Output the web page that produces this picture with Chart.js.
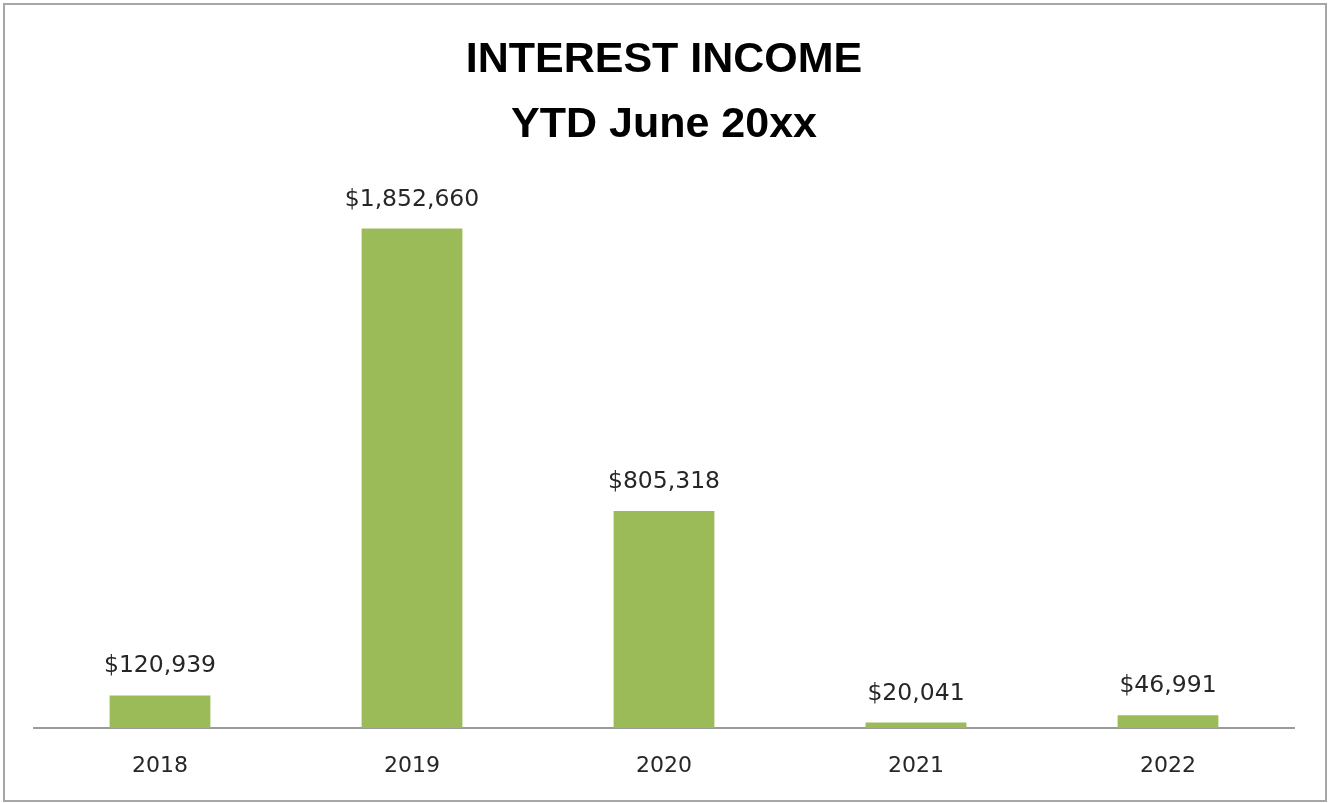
<!DOCTYPE html>
<html>
<head>
<meta charset="utf-8">
<title>Interest Income</title>
<script src="https://cdn.jsdelivr.net/npm/chart.js@4.4.0/dist/chart.umd.min.js"></script>
<style>
  html, body { margin: 0; padding: 0; background: #fff; }
  .frame {
    position: absolute;
    left: 3px;
    top: 3px;
    width: 1320px;
    height: 795px;
    border: 2px solid #a6a6a6;
    background: #fff;
  }
  canvas { display: block; }
</style>
</head>
<body>
<div class="frame">
  <canvas id="incomeChart" width="1320" height="795"></canvas>
</div>
<script>
const years = ["2018", "2019", "2020", "2021", "2022"];
const interestIncome = [120939, 1852660, 805318, 20041, 46991];
const titleLines = ["INTEREST INCOME", "YTD June 20xx"];

const fmtDollars = (v) => "$" + v.toLocaleString("en-US");

// draw the value above each bar (no datalabels plugin offline)
const valueLabels = {
  id: "valueLabels",
  afterDatasetsDraw(chart) {
    const ctx = chart.ctx;
    const meta = chart.getDatasetMeta(0);
    ctx.save();
    ctx.font = "23.5px 'DejaVu Sans'";
    ctx.fillStyle = "#262626";
    ctx.textAlign = "center";
    ctx.textBaseline = "alphabetic";
    meta.data.forEach((bar, i) => {
      ctx.fillText(fmtDollars(interestIncome[i]), bar.x, bar.y - 23);
    });
    ctx.restore();
  }
};

const ctx = document.getElementById("incomeChart").getContext("2d");
new Chart(ctx, {
  type: "bar",
  data: {
    labels: years,
    datasets: [{
      data: interestIncome,
      backgroundColor: "#9bbb59",
      borderWidth: 0,
      barPercentage: 0.4,
      categoryPercentage: 1.0,
    }],
  },
  options: {
    responsive: false,
    animation: false,
    devicePixelRatio: 1,
    layout: {
      padding: { left: 29, right: 31, top: 0, bottom: 0 },
    },
    plugins: {
      legend: { display: false },
      tooltip: { enabled: false },
      title: {
        display: true,
        text: titleLines,
        color: "#000",
        font: { family: "'Liberation Sans', Arial, sans-serif", size: 43, weight: "bold", lineHeight: 1.51 },
        padding: { top: 23, bottom: 31 },
      },
    },
    scales: {
      x: {
        grid: { display: false, drawTicks: false },
        border: { display: true, color: "#9a9a9a", width: 2 },
        ticks: {
          color: "#262626",
          font: { family: "'DejaVu Sans'", size: 22 },
          padding: 25,
        },
        afterFit(scale) {
          scale.height = 72;
        },
      },
      y: {
        display: false,
        min: 0,
        max: 2000000,
        grid: { display: false },
      },
    },
  },
  plugins: [valueLabels],
});
</script>
</body>
</html>
